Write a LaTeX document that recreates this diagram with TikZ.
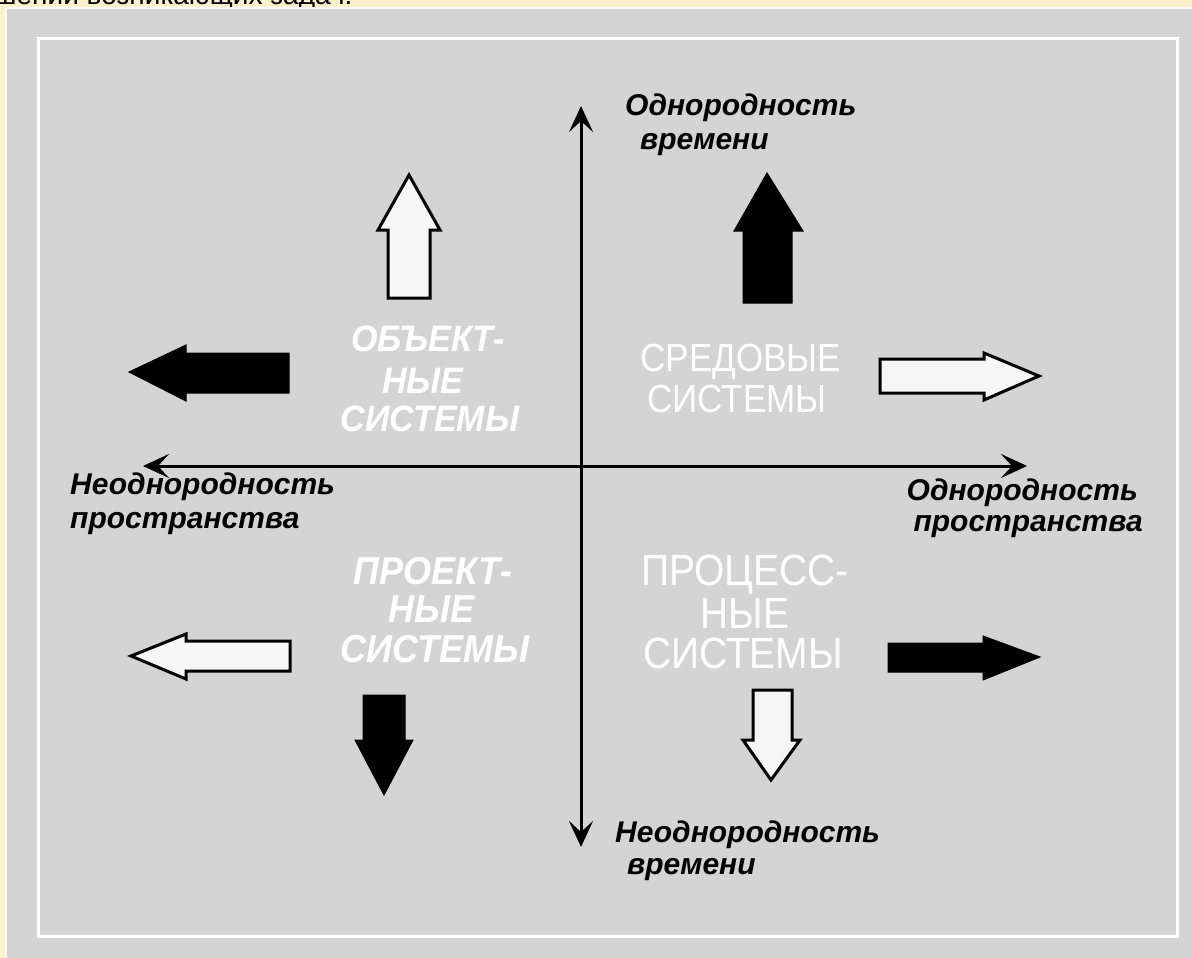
\documentclass[tikz,border=0pt]{standalone}
\usepackage{fontspec}
\setmainfont{Liberation Sans}
\usetikzlibrary{arrows.meta}
\definecolor{bgyellow}{RGB}{255,240,204}
\definecolor{panelgray}{RGB}{212,212,212}
\definecolor{blockwhite}{RGB}{246,246,246}
\newcommand{\tallq}[2]{\scalebox{1}[#1]{#2}}
\tikzset{
  axis/.style={line width=3pt, {Stealth[length=26pt,width=24pt,inset=11pt]}-{Stealth[length=26pt,width=24pt,inset=11pt]}},
  blackblock/.style={fill=black, draw=black, line width=1pt, line join=miter},
  whiteblock/.style={fill=blockwhite, draw=black, line width=3pt, line join=miter},
  axislabel/.style={font=\fontsize{30}{32}\selectfont\bfseries\itshape, text=black, inner sep=0pt},
  quaditalic/.style={font=\fontsize{34}{38}\selectfont\bfseries\itshape, text=white, inner sep=0pt},
  quaditalicb/.style={font=\fontsize{36}{38}\selectfont\bfseries\itshape, text=white, inner sep=0pt},
  quadupright/.style={font=\fontsize{35}{38}\selectfont, text=white, inner sep=0pt},
  quadbig/.style={font=\fontsize{39}{42}\selectfont, text=white, inner sep=0pt, text height=31pt, text depth=0pt},
}
\begin{document}
\begin{tikzpicture}[x=1pt,y=-1pt]
\useasboundingbox (0,0) rectangle (1192,958);
\fill[bgyellow] (0,0) rectangle (1192,958);
\begin{scope}
\clip (0,0) rectangle (1192,958);
\node[anchor=base west, inner sep=0pt, font=\fontsize{28}{30}\selectfont] (cut) at (-6,5) {шении возникающих задач.};
\fill[panelgray] (5,7) rectangle (1200,970);
\draw[white!85!panelgray, line width=2pt] (6,970) -- (6,8) -- (1200,8);
\end{scope}
\draw[white, line width=3pt] (38.5,38.5) rectangle (1177.5,936);

% axes
\coordinate (vtop) at (581,106);
\coordinate (vbot) at (581,847);
\coordinate (hleft) at (143,466);
\coordinate (hright) at (1027,466);
\draw[axis] (vbot) -- (vtop);
\draw[axis] (hleft) -- (hright);

% block arrows
% 1 white up (top-left)
\draw[whiteblock] (388,298) -- (388,230) -- (378,230) -- (409,175) -- (440,230) -- (430,230) -- (430,298) -- cycle;
% 2 black up (top-right)
\draw[blackblock] (743,303) -- (743,231) -- (734,231) -- (767,173) -- (803,231) -- (792,231) -- (792,303) -- cycle;
% 3 black left
\draw[blackblock] (289,353) -- (186,353) -- (186,345) -- (129,372) -- (186,401) -- (186,393) -- (289,393) -- cycle;
% 4 white right
\draw[whiteblock] (880,359) -- (984,359) -- (984,353) -- (1039,376) -- (984,400) -- (984,393) -- (880,393) -- cycle;
% 5 white left (bottom-left)
\draw[whiteblock] (290,641) -- (186,641) -- (186,634) -- (131,656) -- (186,679) -- (186,671) -- (290,671) -- cycle;
% 6 black down
\draw[blackblock] (363,695) -- (405,695) -- (405,740) -- (413,740) -- (384,795) -- (355,740) -- (363,740) -- cycle;
% 7 white down
\draw[whiteblock] (753,690) -- (792,690) -- (792,740) -- (800,740) -- (771,780) -- (743,740) -- (753,740) -- cycle;
% 8 black right
\draw[blackblock] (888,643) -- (983,643) -- (983,636) -- (1040,657) -- (983,680) -- (983,672) -- (888,672) -- cycle;

% axis labels
\node[axislabel, anchor=base west] (t1) at (625,115) {Однородность};
\node[axislabel, anchor=base west] (t2) at (640,149) {времени};
\node[axislabel, anchor=base west] (l1) at (70,494) {Неоднородность};
\node[axislabel, anchor=base west] (l2) at (70,528) {пространства};
\node[axislabel, anchor=base east] (r1) at (1138,500) {Однородность};
\node[axislabel, anchor=base east] (r2) at (1143,531) {пространства};
\node[axislabel, anchor=base west] (b1) at (615,842) {Неоднородность};
\node[axislabel, anchor=base west] (b2) at (627,874) {времени};

% quadrant labels
\node[quaditalic, anchor=base] (q1a) at (428,351) {\tallq{1.08}{ОБЪЕКТ-}};
\node[quaditalic, anchor=base] (q1b) at (423,393) {\tallq{1.08}{НЫЕ}};
\node[quaditalic, anchor=base] (q1c) at (430,431) {\tallq{1.08}{СИСТЕМЫ}};
\node[quadupright, anchor=base] (q2a) at (741,371) {\tallq{1.12}{СРЕДОВЫЕ}};
\node[quadupright, anchor=base] (q2b) at (737,412) {\tallq{1.12}{СИСТЕМЫ}};
\node[quaditalicb, anchor=base] (q3a) at (433,584) {\tallq{1.08}{ПРОЕКТ-}};
\node[quaditalicb, anchor=base] (q3b) at (432,622) {\tallq{1.08}{НЫЕ}};
\node[quaditalicb, anchor=base] (q3c) at (435,662) {\tallq{1.08}{СИСТЕМЫ}};
\node[quadbig, anchor=base] (q4a) at (745,585) {\tallq{1.12}{ПРОЦЕСС-}};
\node[quadbig, anchor=base] (q4b) at (745,628) {\tallq{1.12}{НЫЕ}};
\node[quadbig, anchor=base] (q4c) at (743,668) {\tallq{1.12}{СИСТЕМЫ}};
\end{tikzpicture}
\end{document}
